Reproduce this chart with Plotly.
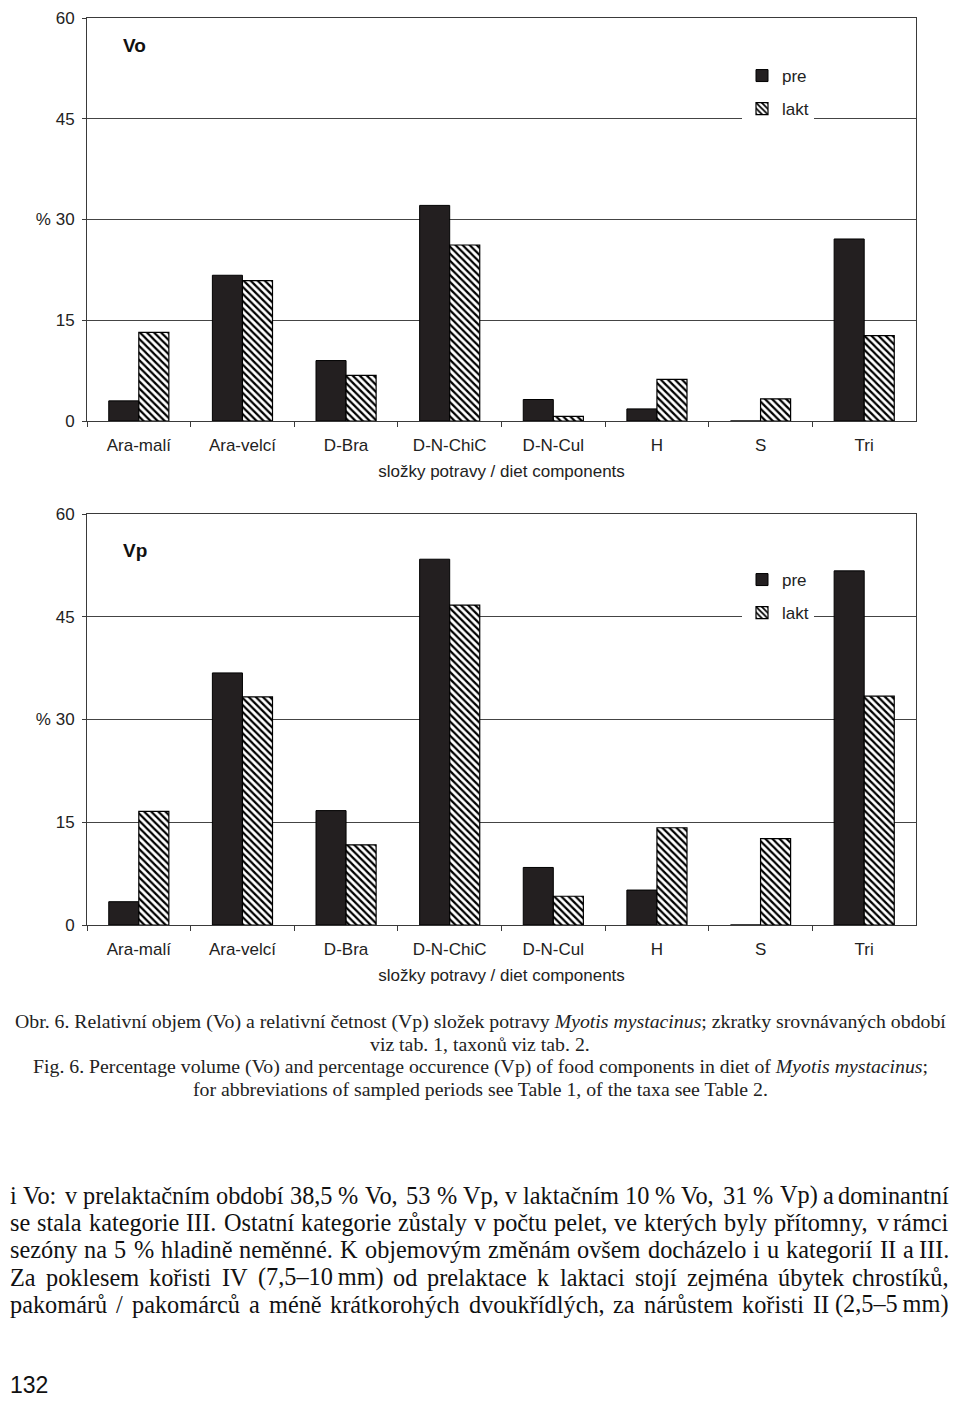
import unicodedata
import plotly.graph_objects as go

# ---------------- data ----------------
categories = ["Ara-malí", "Ara-velcí", "D-Bra", "D-N-ChiC", "D-N-Cul", "H", "S", "Tri"]
vo_pre = [3.0, 21.7, 9.0, 32.1, 3.2, 1.8, 0.0, 27.1]
vo_lakt = [13.2, 20.9, 6.8, 26.2, 0.7, 6.2, 3.3, 12.7]
vp_pre = [3.4, 36.8, 16.7, 53.4, 8.4, 5.1, 0.0, 51.7]
vp_lakt = [16.6, 33.3, 11.7, 46.7, 4.2, 14.2, 12.6, 33.4]
y_tickvals = [0, 15, 30, 45, 60]
y_ticktext = ["0", "15", "% 30", "45", "60"]
series_names = ["pre", "lakt"]
x_title = "složky potravy / diet components"
panel_labels = ["Vo", "Vp"]

caption_lines = [
    "Obr. 6. Relativní objem (Vo) a relativní četnost (Vp) složek potravy <i>Myotis mystacinus</i>; zkratky srovnávaných období",
    "viz tab. 1, taxonů viz tab. 2.",
    "Fig. 6. Percentage volume (Vo) and percentage occurence (Vp) of food components in diet of <i>Myotis mystacinus</i>;",
    "for abbreviations of sampled periods see Table 1, of the taxa see Table 2.",
]
body_lines = [
    "i Vo: v prelaktačním období 38,5 % Vo, 53 % Vp, v laktačním 10 % Vo, 31 % Vp) a dominantní",
    "se stala kategorie III. Ostatní kategorie zůstaly v počtu pelet, ve kterých byly přítomny, v rámci",
    "sezóny na 5 % hladině neměnné. K objemovým změnám ovšem docházelo i u kategorií II a III.",
    "Za poklesem kořisti IV (7,5–10\u2009mm) od prelaktace k laktaci stojí zejména úbytek chrostíků,",
    "pakomárů / pakomárců a méně krátkorohých dvoukřídlých, za nárůstem kořisti II (2,5–5\u2009mm)",
]
page_number = "132"

# ---------------- layout constants ----------------
PAGE_W, PAGE_H = 960, 1408
OFF = 8                       # browser body margin on each side
W, H = PAGE_W - 2 * OFF, PAGE_H - 2 * OFF
SANS = "Liberation Sans, Arial, sans-serif"
SERIF = "Liberation Serif, Times New Roman, serif"
PRE_COLOR = "#231f20"
LINE_COLOR = "#3a3a3a"


def py(p):
    return 1 - (p - OFF) / H


def px_x(p):
    return (p - OFF) / W


# approximate Times / Liberation Serif advance widths (1/1000 em) for justification
TW = {" ": 250, "\u2009": 167, ",": 250, ".": 250, ":": 278, ";": 278, "%": 833, "(": 333,
      ")": 333, "/": 278, "–": 500, "-": 333}
TW.update({c: w for c, w in zip("abcdefghijklmnopqrstuvwxyz",
                                [444, 500, 444, 500, 444, 333, 500, 500, 278, 278, 500, 278, 778,
                                 500, 500, 500, 500, 333, 389, 278, 500, 500, 722, 500, 500, 444])})
TW.update({c: w for c, w in zip("ABCDEFGHIJKLMNOPQRSTUVWXYZ",
                                [722, 667, 667, 722, 611, 556, 722, 722, 333, 389, 722, 611, 889,
                                 722, 722, 556, 722, 667, 556, 611, 722, 722, 944, 722, 722, 611])})
TW.update({d: 500 for d in "0123456789"})


def text_width(s, size):
    total = 0
    for ch in s:
        base = unicodedata.normalize("NFD", ch)[0]
        total += TW.get(ch, TW.get(base, 500))
    return total * size / 1000.0


x_dom = [px_x(87), px_x(916)]
top_dom = [py(421), py(18)]
bot_dom = [py(925), py(514)]

fig = go.Figure()

sets = [(vo_pre, vo_lakt, "x", "y", "legend"), (vp_pre, vp_lakt, "x2", "y2", "legend2")]
for pre, lakt, xa, ya, lg in sets:
    fig.add_trace(go.Bar(
        x=categories, y=pre, name=series_names[0], xaxis=xa, yaxis=ya, legend=lg,
        legendgroup=lg + "pre",
        marker=dict(color=PRE_COLOR, line=dict(color="#000", width=1)),
    ))
    fig.add_trace(go.Bar(
        x=categories, y=lakt, name=series_names[1], xaxis=xa, yaxis=ya, legend=lg,
        legendgroup=lg + "lakt",
        marker=dict(color="white", line=dict(color="#000", width=1.2),
                    pattern=dict(shape="\\", size=5, solidity=0.45,
                                 fgcolor="#000", bgcolor="white", fillmode="replace")),
    ))

xaxis_common = dict(
    type="category", domain=x_dom, showline=True, linecolor=LINE_COLOR, linewidth=1,
    mirror=True, ticks="outside", ticklen=5, tickcolor=LINE_COLOR, tickson="boundaries",
    tickfont=dict(family=SANS, size=17, color="#222"), showgrid=False,
    ticklabelstandoff=9, automargin=False,
    title=dict(text=x_title, font=dict(family=SANS, size=17, color="#222"), standoff=10),
    fixedrange=True,
)
yaxis_common = dict(
    range=[0, 60], tickvals=y_tickvals, ticktext=y_ticktext, showline=True,
    linecolor=LINE_COLOR, linewidth=1, mirror=True, ticks="outside", ticklen=4,
    tickcolor=LINE_COLOR, showgrid=True, gridcolor="#444", gridwidth=1,
    tickfont=dict(family=SANS, size=17, color="#222"), zeroline=False,
    ticklabelstandoff=4, fixedrange=True, automargin=False, ticklabeloverflow="allow",
)

legend_common = dict(
    bgcolor="white", borderwidth=0, font=dict(family=SANS, size=17, color="#222"),
    xanchor="left", yanchor="top", tracegroupgap=8, itemclick=False,
    itemdoubleclick=False,
)

annotations = [
    dict(text="<b>" + panel_labels[0] + "</b>", x=px_x(121), y=py(46), xref="paper", yref="paper",
         xanchor="left", yanchor="middle", showarrow=False,
         font=dict(family=SANS, size=19, color="#111")),
    dict(text="<b>" + panel_labels[1] + "</b>", x=px_x(121), y=py(550), xref="paper", yref="paper",
         xanchor="left", yanchor="middle", showarrow=False,
         font=dict(family=SANS, size=19, color="#111")),
]
cap_y = [1021, 1044, 1066, 1089]
for t, yy in zip(caption_lines, cap_y):
    annotations.append(dict(text=t, x=px_x(480), y=py(yy), xref="paper", yref="paper",
                            xanchor="center", yanchor="middle", showarrow=False,
                            font=dict(family=SERIF, size=19.8, color="#222")))

# justified body text: each word placed so the line spans the full text column
BODY_SIZE = 24.3
BODY_LEFT, BODY_RIGHT = 9, 950
body_y = [1195, 1222, 1249, 1277, 1304]
for t, yy in zip(body_lines, body_y):
    words = t.split(" ")
    widths = [text_width(w, BODY_SIZE) for w in words]
    gap = (BODY_RIGHT - BODY_LEFT - sum(widths)) / (len(words) - 1)
    xpos = BODY_LEFT
    for i, (w, ww) in enumerate(zip(words, widths)):
        last = i == len(words) - 1
        annotations.append(dict(text=w, x=px_x(BODY_RIGHT if last else xpos), y=py(yy),
                                xref="paper", yref="paper",
                                xanchor="right" if last else "left", yanchor="middle",
                                showarrow=False, borderpad=0,
                                font=dict(family=SERIF, size=BODY_SIZE, color="#111")))
        xpos += ww + gap

annotations.append(dict(text=page_number, x=px_x(9), y=py(1399), xref="paper", yref="paper",
                        xanchor="left", yanchor="bottom", showarrow=False, borderpad=0,
                        font=dict(family=SANS, size=23, color="#111")))

fig.update_layout(
    width=W, height=H, margin=dict(l=0, r=0, t=0, b=0, pad=0, autoexpand=False),
    paper_bgcolor="white", plot_bgcolor="white",
    barmode="group", bargap=0.42, bargroupgap=0,
    showlegend=True,
    xaxis=dict(xaxis_common, anchor="y"),
    yaxis=dict(yaxis_common, domain=top_dom, anchor="x"),
    xaxis2=dict(xaxis_common, anchor="y2"),
    yaxis2=dict(yaxis_common, domain=bot_dom, anchor="x2"),
    legend=dict(legend_common, x=px_x(742), y=py(58)),
    legend2=dict(legend_common, x=px_x(742), y=py(562)),
    annotations=annotations,
)

fig.write_html("out.html")
